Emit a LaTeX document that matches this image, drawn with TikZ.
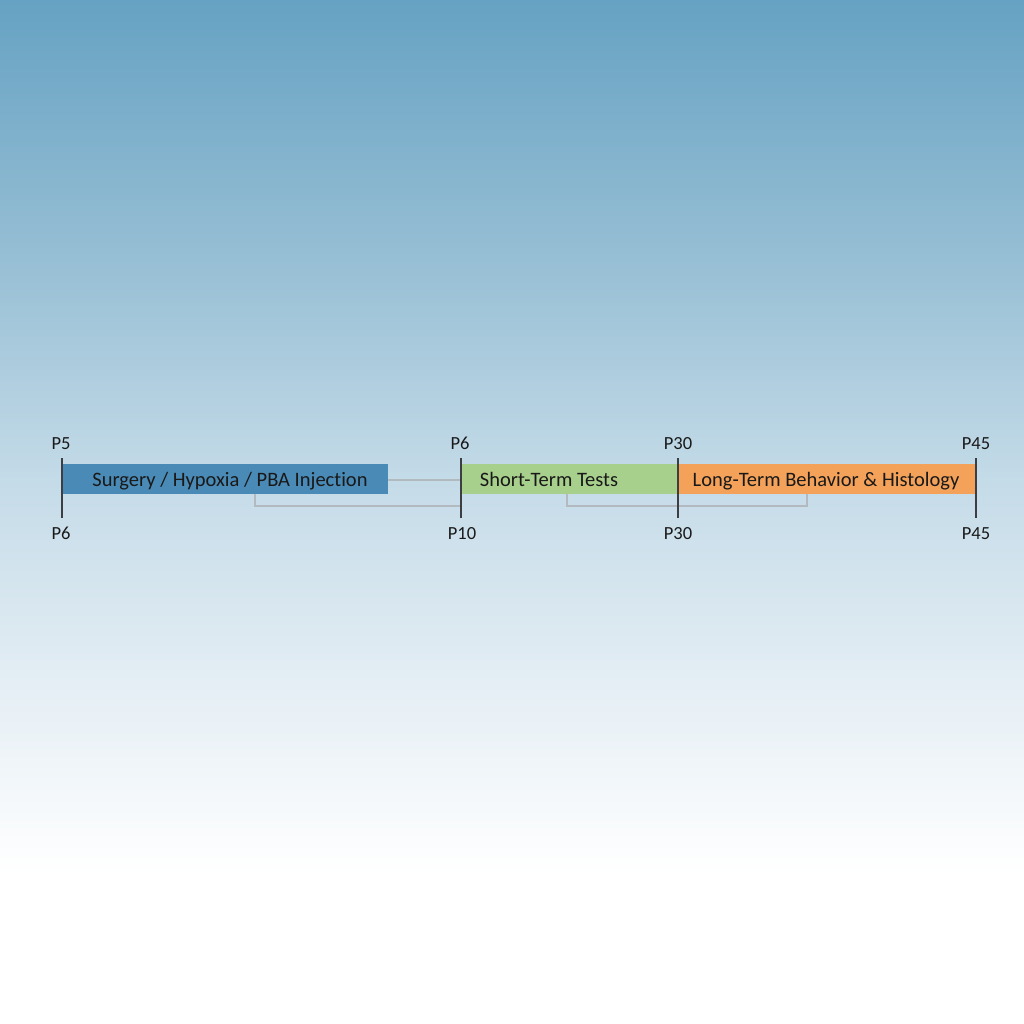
\documentclass[tikz,border=0pt]{standalone}
\usepackage{fontspec}
\setmainfont{Carlito}[Ligatures=NoCommon]
\definecolor{bgtop}{RGB}{102,162,195}
\definecolor{bgA}{RGB}{150,190,212}
\definecolor{bgB}{RGB}{196,219,232}
\definecolor{bgC}{RGB}{230,239,245}
\definecolor{barblue}{RGB}{74,138,182}
\definecolor{bargreen}{RGB}{168,208,141}
\definecolor{barorange}{RGB}{244,162,89}
\definecolor{tickgray}{RGB}{60,62,66}
\definecolor{linkgray}{RGB}{178,186,192}
\definecolor{txt}{RGB}{25,25,25}
\pgfdeclareverticalshading{bgshade}{100bp}{color(0bp)=(white); color(32.3bp)=(white); color(41.1bp)=(bgC); color(51.6bp)=(bgB); color(62.5bp)=(bgA); color(75bp)=(bgtop); color(100bp)=(bgtop)}
\tikzset{
  bar/.style={draw=none, anchor=west, minimum height=30pt, inner sep=0pt, outer sep=0pt},
  bartext/.style={font=\fontsize{20.5}{24}\selectfont, text=txt, inner sep=0pt, anchor=base},
  plabel/.style={font=\fontsize{18.5}{22}\selectfont, text=txt, inner sep=0pt, anchor=base},
  tickline/.style={draw=tickgray, line width=1.5pt},
  link/.style={draw=linkgray, line width=1.4pt}
}
\begin{document}
\begin{tikzpicture}[x=1pt,y=-1pt]
\useasboundingbox (0,0) rectangle (1024,1024);
\shade[shading=bgshade] (0,0) rectangle (1024,1024);
% bars
\node[bar, fill=barblue, minimum width=326pt] (blue) at (62,479) {};
\node[bar, fill=bargreen, minimum width=217pt] (green) at (461,479) {};
\node[bar, fill=barorange, minimum width=298pt] (orange) at (678,479) {};
\node[bartext] (tblue) at (230,486) {Surgery / Hypoxia / PBA Injection};
\node[bartext] (tgreen) at (549,486) {Short-Term Tests};
\node[bartext] (torange) at (826,486) {Long-Term Behavior \& Histology};
% connectors
\coordinate (t2m) at (461,480);
\coordinate (b1) at (255,494);
\coordinate (b1d) at (255,506);
\coordinate (t2b) at (461,506);
\coordinate (g1) at (567,494);
\coordinate (g1d) at (567,506);
\coordinate (o1d) at (807,506);
\coordinate (o1) at (807,494);
\draw[link] (blue.east |- t2m) -- (t2m);
\draw[link] (b1) -- (b1d) -- (t2b);
\draw[link] (g1) -- (g1d) -- (o1d) -- (o1);
% ticks
\foreach \n/\x in {a/62,b/461,c/678,d/976}{
  \coordinate (tt\n) at (\x,458);
  \coordinate (tb\n) at (\x,518);
  \draw[tickline] (tt\n) -- (tb\n);
}
% labels
\node[plabel] (la1) at (61,449) {P5};
\node[plabel] (la2) at (61,539) {P6};
\node[plabel] (lb1) at (460,449) {P6};
\node[plabel] (lb2) at (462,539) {P10};
\node[plabel] (lc1) at (678,449) {P30};
\node[plabel] (lc2) at (678,539) {P30};
\node[plabel] (ld1) at (976,449) {P45};
\node[plabel] (ld2) at (976,539) {P45};
\end{tikzpicture}
\end{document}
